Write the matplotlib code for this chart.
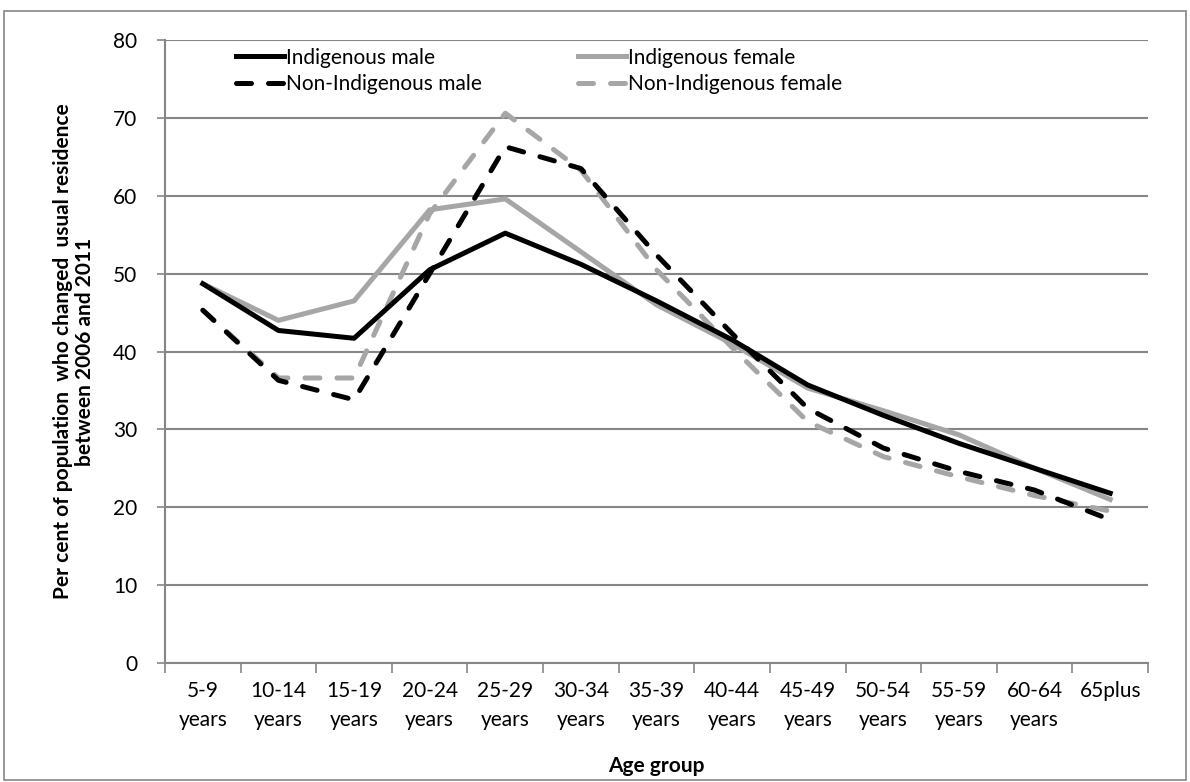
import numpy as np
import matplotlib.pyplot as plt
from matplotlib.patches import Rectangle

# data
age_groups = ['5-9\nyears', '10-14\nyears', '15-19\nyears', '20-24\nyears', '25-29\nyears',
              '30-34\nyears', '35-39\nyears', '40-44\nyears', '45-49\nyears', '50-54\nyears',
              '55-59\nyears', '60-64\nyears', '65plus\n']
indig_male = [48.7, 42.7, 41.7, 50.5, 55.2, 51.2, 46.5, 41.5, 35.7, 31.8, 28.2, 25.0, 21.8]
indig_female = [48.7, 44.0, 46.5, 58.2, 59.6, 52.8, 46.0, 41.0, 35.3, 32.4, 29.3, 25.0, 21.0]
nonind_male = [45.3, 36.3, 33.8, 50.0, 66.3, 63.5, 52.4, 42.3, 32.7, 27.6, 24.6, 22.2, 18.4]
nonind_female = [45.3, 36.6, 36.6, 57.7, 70.6, 63.3, 50.5, 40.5, 31.0, 26.5, 23.9, 21.5, 19.5]

plt.rcParams['font.family'] = ['Lato', 'DejaVu Sans']
black = '#000000'
grey = '#a6a6a6'
axis_grey = '#868686'
fs = 15

fig = plt.figure(figsize=(11.9, 7.82), dpi=100)
ax = fig.add_axes([0.1387, 0.1522, 0.826, 0.7966])

# outer frame of the chart
fig.patches.append(Rectangle((0.003, 0.002), 0.994, 0.984, transform=fig.transFigure,
                             fill=False, edgecolor=axis_grey, linewidth=1.2))

x = np.arange(len(age_groups))
lw = 3.6
dash = (3.0, 3.4)
l_im, = ax.plot(x, indig_male, color=black, lw=lw, zorder=4)
l_if, = ax.plot(x, indig_female, color=grey, lw=lw, zorder=3)
l_nm, = ax.plot(x, nonind_male, color=black, lw=lw, dashes=dash, zorder=4)
l_nf, = ax.plot(x, nonind_female, color=grey, lw=lw, dashes=dash, zorder=3)
for ln in (l_nm, l_nf):
    ln.set_dash_capstyle('round')

ax.set_xlim(-0.5, len(age_groups) - 0.5)
ax.set_ylim(0, 80)
ax.set_yticks(np.arange(0, 81, 10))
ax.set_xticks(x)
ax.set_xticklabels(age_groups, fontsize=fs, linespacing=1.55)
ax.set_xticks(np.arange(-0.5, len(age_groups), 1), minor=True)
ax.tick_params(axis='x', which='major', length=0, pad=13)
ax.tick_params(axis='x', which='minor', length=7, width=1.2, color=axis_grey)
ax.tick_params(axis='y', length=6, width=1.2, color=axis_grey, labelsize=fs, pad=14)

ax.grid(axis='y', color=axis_grey, lw=1.5)
ax.set_axisbelow(True)
for side in ['top', 'right']:
    ax.spines[side].set_visible(False)
for side in ['left', 'bottom']:
    ax.spines[side].set_color(axis_grey)
    ax.spines[side].set_linewidth(1.5)

ax.set_xlabel('Age group', fontsize=fs, fontweight='bold', labelpad=19)
ax.set_ylabel('Per cent of population  who changed  usual residence\nbetween 2006 and 2011',
              fontsize=fs, fontweight='bold', labelpad=13, linespacing=1.15)

ax.legend([l_im, l_nm, l_if, l_nf],
          ['Indigenous male', 'Non-Indigenous male', 'Indigenous female', 'Non-Indigenous female'],
          loc='upper left', bbox_to_anchor=(0.053, 1.018), ncol=2, frameon=False,
          fontsize=fs, handlelength=2.3, handletextpad=0.12, columnspacing=4.6,
          labelspacing=0.3)

fig.savefig('out.png', dpi=100)
